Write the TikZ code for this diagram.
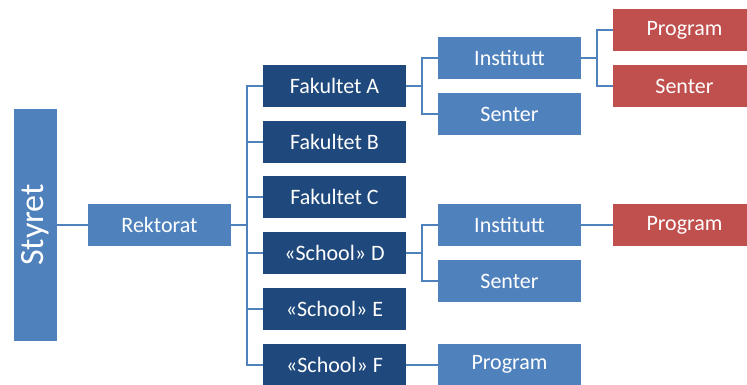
\documentclass[tikz,border=0pt]{standalone}
\usepackage{fontspec}
\setmainfont{Carlito}
\usepackage{tikz}
\usetikzlibrary{positioning}
\definecolor{midblue}{HTML}{4F81BD}
\definecolor{darkblue}{HTML}{1F497D}
\definecolor{redbox}{HTML}{C0504D}

\begin{document}
\begin{tikzpicture}[x=1pt,y=-1pt,
  box/.style={fill=#1, text=white, inner sep=0pt, minimum width=143pt, minimum height=42pt, font=\fontsize{22}{26}\selectfont},
  link/.style={draw=midblue, line width=2pt}]
\useasboundingbox (0,0) rectangle (747,384);

\node [box=midblue, rotate=90, minimum width=232pt, minimum height=43pt, font=\fontsize{34}{40}\selectfont] (styret) at (35.5,225) {Styret};
\node [box=midblue] (rektorat) at (159.5,225) {Rektorat};

\node [box=darkblue] (fakA) at (334.5,86) {Fakultet A};
\node [box=darkblue] (fakB) at (334.5,141.7) {Fakultet B};
\node [box=darkblue] (fakC) at (334.5,197.4) {Fakultet C};
\node [box=darkblue] (schD) at (334.5,253.1) {«School» D};
\node [box=darkblue] (schE) at (334.5,308.8) {«School» E};
\node [box=darkblue] (schF) at (334.5,364.5) {«School» F};

\node [box=midblue] (instA) at (509.5,58) {Institutt};
\node [box=midblue] (senA) at (509.5,114) {Senter};
\node [box=midblue] (instD) at (509.5,225) {Institutt};
\node [box=midblue] (senD) at (509.5,281) {Senter};
\node [box=midblue] (progF) at (509.5,364.5) {Program};

\node [box=redbox] (progA) at (684.5,30) {Program};
\node [box=redbox] (senR) at (684.5,86) {Senter};
\node [box=redbox] (progD) at (684.5,225) {Program};

\coordinate (bus) at (247,225);
\coordinate (brA) at (422,86);
\coordinate (brD) at (422,253.1);
\coordinate (brI) at (597,58);

\draw [link] (styret) -- (rektorat);
\draw [link] (rektorat) -- (bus);
\foreach \f in {fakA,fakB,fakC,schD,schE,schF}
  \draw [link] (bus) |- (\f);

\draw [link] (fakA) -- (brA);
\draw [link] (brA) |- (instA);
\draw [link] (brA) |- (senA);
\draw [link] (instA) -- (brI);
\draw [link] (brI) |- (progA);
\draw [link] (brI) |- (senR);

\draw [link] (schD) -- (brD);
\draw [link] (brD) |- (instD);
\draw [link] (brD) |- (senD);
\draw [link] (instD) -- (progD);

\draw [link] (schF) -- (progF);

\end{tikzpicture}
\end{document}
